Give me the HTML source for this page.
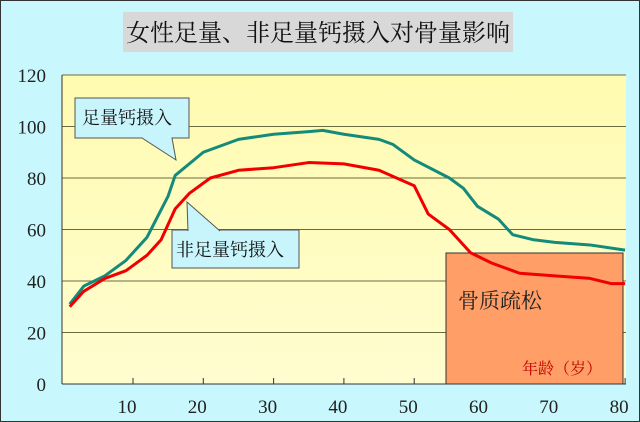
<!DOCTYPE html>
<html><head><meta charset="utf-8"><style>
html,body{margin:0;padding:0;background:#c8f8fd;}
svg{display:block;font-family:"Liberation Serif","Noto Serif CJK SC","Noto Sans CJK SC",serif;}
</style></head><body>
<svg width="640" height="422" viewBox="0 0 640 422">
<defs><linearGradient id="pg" x1="0" y1="0" x2="0" y2="1"><stop offset="0" stop-color="#fffbb0"/><stop offset="1" stop-color="#fffcd0"/></linearGradient></defs>
<rect x="0.5" y="0.5" width="639" height="421" fill="#c8f8fd" stroke="#333"/>
<rect x="123" y="12" width="390" height="40" fill="#d8d8d8"/>
<text x="318" y="41" text-anchor="middle" font-size="24" fill="#111" font-family="Liberation Serif,Noto Serif CJK SC,serif">女性足量、非足量钙摄入对骨量影响</text>
<rect x="62" y="75" width="564" height="309" fill="url(#pg)"/>
<g id="grid"></g>
<g id="ylabels"></g>
<g id="xlabels"></g>
<rect x="446" y="253" width="177" height="131" fill="#ff9e66" stroke="#333"/>
<text x="458" y="308" font-size="21" fill="#222" font-family="Liberation Serif,Noto Serif CJK SC,serif">骨质疏松</text>
<text x="522" y="374" font-size="16" fill="#c00000" font-family="Liberation Serif,Noto Serif CJK SC,serif">年龄（岁）</text>
<line x1="62" y1="75" x2="62" y2="384" stroke="#333"/>
<line x1="62" y1="384" x2="626" y2="384" stroke="#333"/>
<polyline id="green" fill="none" stroke="#138a7a" stroke-width="3" stroke-linejoin="round"/>
<polyline id="red" fill="none" stroke="#f00000" stroke-width="3" stroke-linejoin="round"/>
<g>
<path d="M75,98 H189 V138 H172 L176,160 L142,138 H75 Z" fill="#c8f4fb" stroke="#555"/>
<text x="82" y="124" font-size="18" fill="#111" font-family="Liberation Serif,Noto Serif CJK SC,serif">足量钙摄入</text>
</g>
<g>
<path d="M172,230 H299 V268 H172 Z" fill="#c8f4fb" stroke="#555"/>
<path d="M188,231 L187,202 L220,231" fill="#c8f4fb" stroke="#555"/>
<text x="176" y="256" font-size="18" fill="#111" font-family="Liberation Serif,Noto Serif CJK SC,serif">非足量钙摄入</text>
</g>
</svg>
<script>
const yTicks=[0,20,40,60,80,100,120];
const xTicks=[10,20,30,40,50,60,70,80];
const greenAges=[1,3,6,9,12,15,16,20,25,30,35,37,40,45,47,50,55,57,59,62,64,67,70,75,80];
const greenVals=[31,38,42,48,57,73,81,90,95,97,98,98.5,97,95,93,87,80,76,69,64,58,56,55,54,52];
const redAges=[1,3,6,9,12,14,16,18,21,25,30,35,40,45,50,52,55,58,61,63,65,70,75,78,80];
const redVals=[30,36,41,44,50,56,68,74,80,83,84,86,85.5,83,77,66,60,51,47,45,43,42,41,39,39];
const NS='http://www.w3.org/2000/svg';
const X=a=>133+(a-10)*7.03, Y=v=>384-v*309/120;
const grid=document.getElementById('grid'),yl=document.getElementById('ylabels'),xl=document.getElementById('xlabels');
yTicks.forEach(t=>{
 if(t>0){const l=document.createElementNS(NS,'line');
 
 
 l.setAttribute('x1',62);l.setAttribute('x2',626);l.setAttribute('y1',Y(t));l.setAttribute('y2',Y(t));l.setAttribute('stroke','#6b6b40');grid.appendChild(l);}
 const tx=document.createElementNS(NS,'text');
 
 
 tx.setAttribute('x',46);tx.setAttribute('y',Y(t)+7);tx.setAttribute('text-anchor','end');tx.setAttribute('font-size','19');tx.setAttribute('fill','#222');tx.textContent=t;yl.appendChild(tx);
});
xTicks.forEach(t=>{
 const l=document.createElementNS(NS,'line');
 
 
 l.setAttribute('x1',X(t));l.setAttribute('x2',X(t));l.setAttribute('y1',378);l.setAttribute('y2',384);l.setAttribute('stroke','#333');grid.appendChild(l);
 const tx=document.createElementNS(NS,'text');
 
 
 tx.setAttribute('x',X(t)-6);tx.setAttribute('y',413);tx.setAttribute('text-anchor','middle');tx.setAttribute('font-size','19');tx.setAttribute('fill','#222');tx.textContent=t;xl.appendChild(tx);
});
document.getElementById('green').setAttribute('points',greenAges.map((a,i)=>X(a)+','+Y(greenVals[i])).join(' '));
document.getElementById('red').setAttribute('points',redAges.map((a,i)=>X(a)+','+Y(redVals[i])).join(' '));
</script>
</body></html>
